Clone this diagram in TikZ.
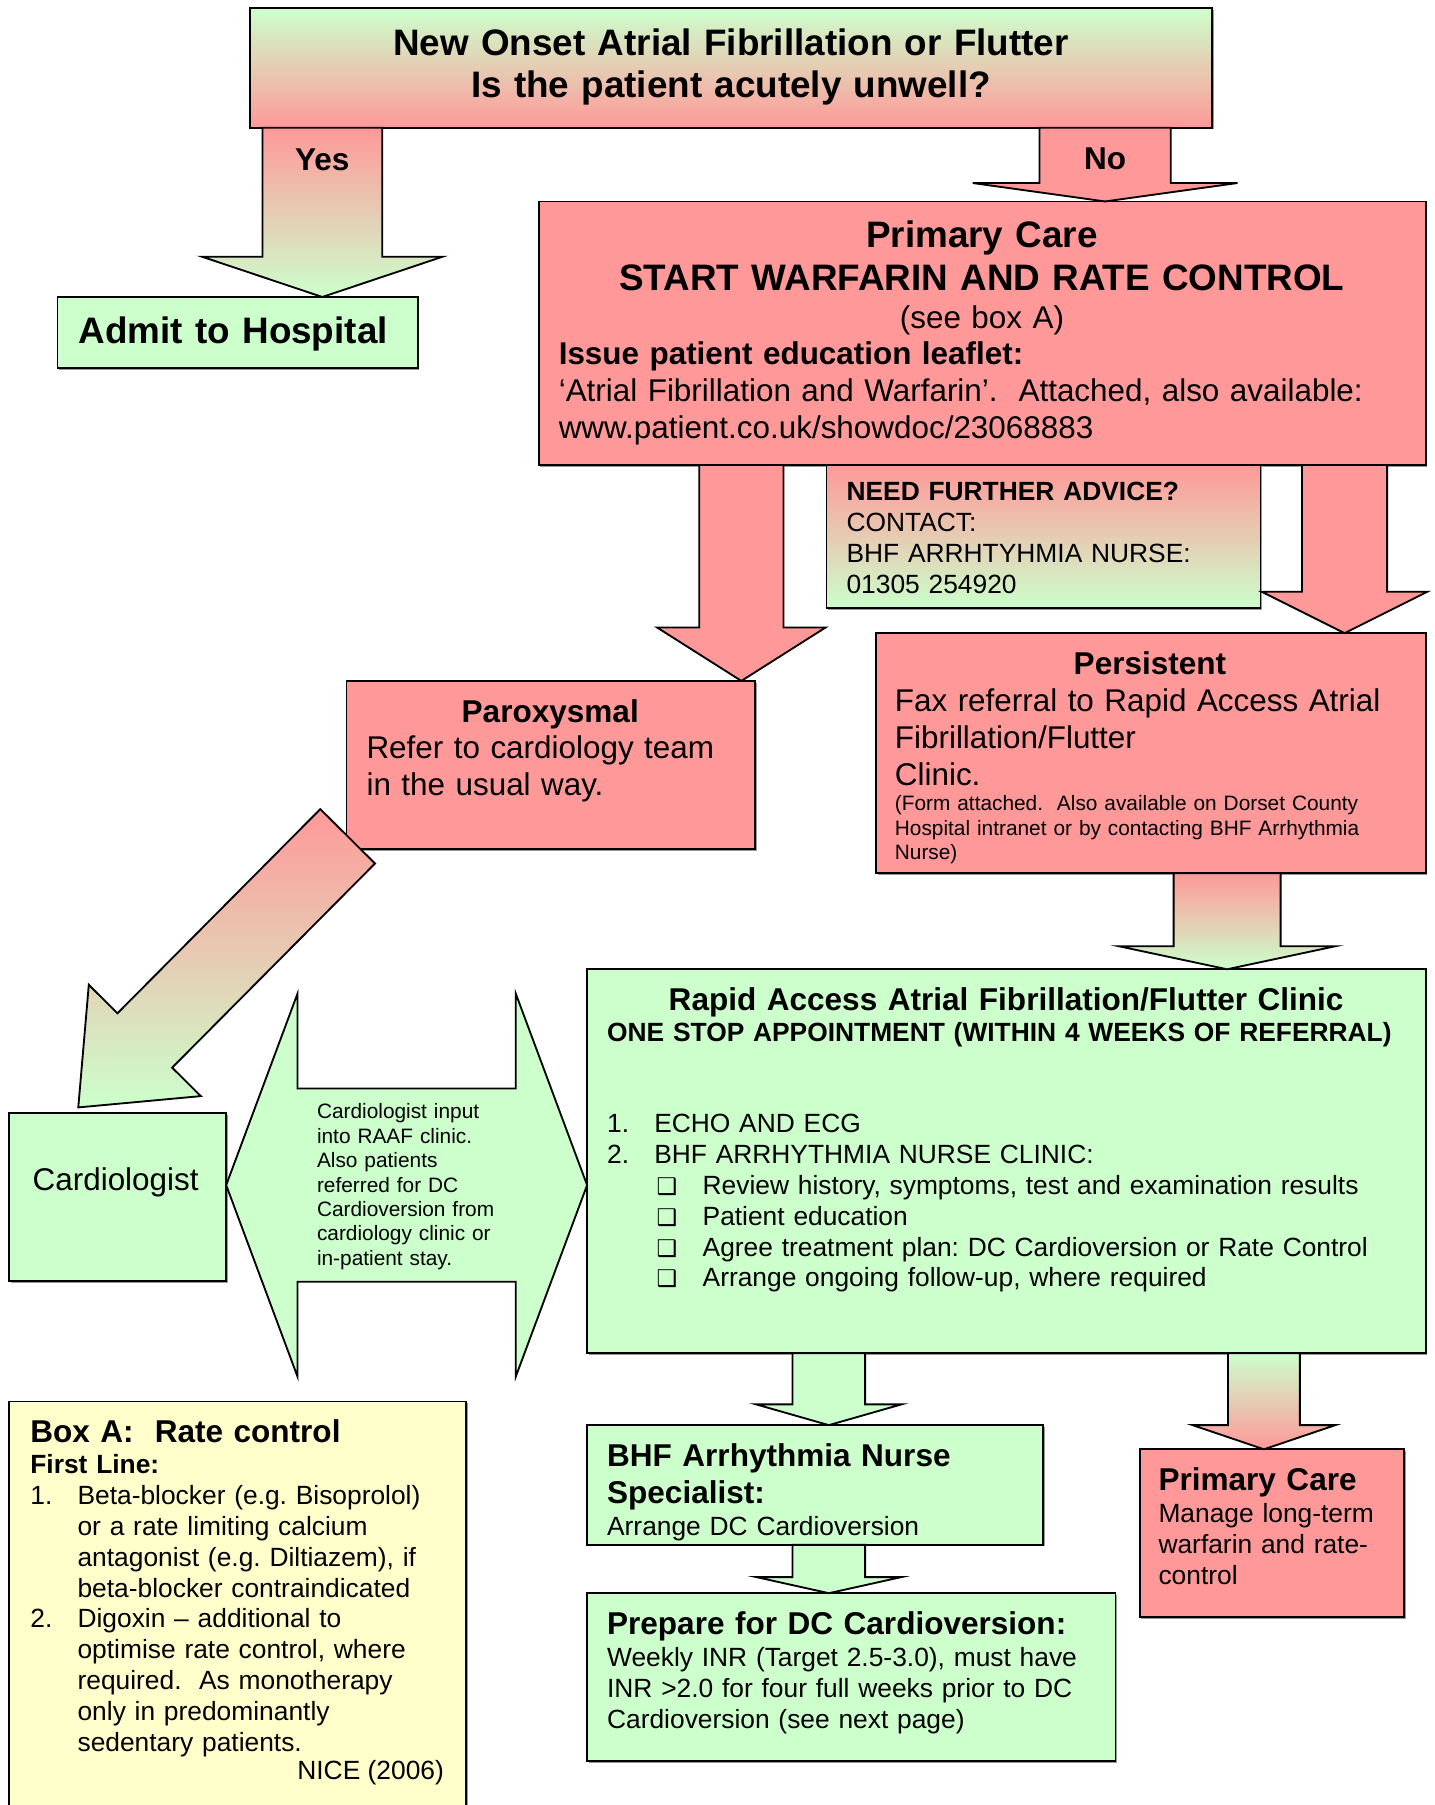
\documentclass[tikz,border=0pt]{standalone}
\usepackage{fontspec}
\setmainfont{Liberation Sans}
\newfontfamily\symf{DejaVu Sans}
\usetikzlibrary{calc,fit,shadows}
\definecolor{lgreen}{HTML}{CCFFCC}
\definecolor{lred}{HTML}{FF9999}
\definecolor{lyellow}{HTML}{FFFFCC}
\newcommand\bsq{{\symf\fontsize{10}{10}\selectfont ❑}}
\frenchspacing
\begin{document}
\begin{tikzpicture}[x={(0.5pt,0)},y={(0,-0.5pt)},
  box/.style={draw,line width=0.8pt,inner sep=0pt,outer sep=0pt,
    drop shadow={shadow xshift=0.7pt,shadow yshift=-0.7pt,fill=black!40,opacity=1}},
  fA/.style={font=\fontsize{16}{18.5}\selectfont\bfseries},
  fB/.style={font=\fontsize{13.65}{16}\selectfont},
  fBb/.style={font=\fontsize{13.7}{16}\selectfont\bfseries},
  fC/.style={font=\fontsize{11.45}{13.4}\selectfont},
  fCb/.style={font=\fontsize{11.45}{13.4}\selectfont\bfseries},
  fD/.style={font=\fontsize{9.05}{10.6}\selectfont},
  txt/.style={inner sep=0pt,anchor=base west,align=left,text width=380pt},
  ctxt/.style={inner sep=0pt,anchor=base,align=center,text width=400pt},
  fat/.style n args={3}{draw,line width=0.8pt,to path={
    ($(\tikztostart)!#1!90:(\tikztotarget)$)
    -- ($(\tikztotarget)!#3!(\tikztostart)!#1!90:(\tikztotarget)$)
    -- ($(\tikztotarget)!#3!(\tikztostart)!#2!90:(\tikztotarget)$)
    -- (\tikztotarget)
    -- ($(\tikztotarget)!#3!(\tikztostart)!#2!-90:(\tikztotarget)$)
    -- ($(\tikztotarget)!#3!(\tikztostart)!#1!-90:(\tikztotarget)$)
    -- ($(\tikztostart)!#1!-90:(\tikztotarget)$)
    -- cycle}},
  fatboth/.style n args={3}{draw,line width=0.8pt,to path={
    (\tikztostart)
    -- ($(\tikztostart)!#3!(\tikztotarget)!#2!90:(\tikztotarget)$)
    -- ($(\tikztostart)!#3!(\tikztotarget)!#1!90:(\tikztotarget)$)
    -- ($(\tikztotarget)!#3!(\tikztostart)!#1!90:(\tikztotarget)$)
    -- ($(\tikztotarget)!#3!(\tikztostart)!#2!90:(\tikztotarget)$)
    -- (\tikztotarget)
    -- ($(\tikztotarget)!#3!(\tikztostart)!#2!-90:(\tikztotarget)$)
    -- ($(\tikztotarget)!#3!(\tikztostart)!#1!-90:(\tikztotarget)$)
    -- ($(\tikztostart)!#3!(\tikztotarget)!#1!-90:(\tikztotarget)$)
    -- ($(\tikztostart)!#3!(\tikztotarget)!#2!-90:(\tikztotarget)$)
    -- cycle}}]
\useasboundingbox (0,0) rectangle (1246,1568);
\node[box,top color=lgreen,bottom color=lred,fit={(217,7) (1053,111)}] (q) {};
\node[box,fill=lgreen,fit={(50,258) (363,320)}] (admit) {};
\node[box,fill=lred,fit={(468,175) (1238.5,404)}] (pc) {};
\node[box,top color=lred,bottom color=lgreen,fit={(718,404) (1095,528.5)}] (adv) {};
\node[box,fill=lred,fit={(761,550) (1238.5,758.5)}] (pers) {};
\node[box,fill=lred,fit={(301,591.5) (656,737.5)}] (par) {};
\node[box,fill=lgreen,fit={(8,967) (196.5,1113)}] (card) {};
\node[box,fill=lgreen,fit={(510,842) (1238.5,1175.5)}] (raaf) {};
\node[box,fill=lgreen,fit={(510,1238) (906,1342)}] (bhf) {};
\node[box,fill=lgreen,fit={(510,1384) (969,1530)}] (prep) {};
\node[box,fill=lred,fit={(990,1259) (1220,1405)}] (pc2) {};
\node[box,fill=lyellow,fit={(8,1217.5) (405,1590)}] (boxa) {};
\coordinate (yesx) at (280,0);
\coordinate (nox) at (960,0);
\coordinate (parx) at (644,0);
\coordinate (persx) at (1168,0);
\coordinate (raafx) at (1066,0);
\coordinate (bhfx) at (720,0);
\coordinate (pc2x) at (1098,0);
\coordinate (dbly) at (0,1029.5);
\coordinate (dgs) at ($(par.south west)+(1,-11)$);
\coordinate (dge) at ($(card.north west)+(60,-5)$);
\shade[fat={26pt}{52.25pt}{17.5pt},top color=lred,bottom color=lgreen] (q.south -| yesx) to (admit.north -| yesx);
\path[fat={28.5pt}{57.5pt}{8pt},fill=lred] (q.south -| nox) to (pc.north -| nox);
\path[fat={18.3pt}{36.6pt}{23.2pt},fill=lred] (pc.south -| parx) to (par.north -| parx);
\path[fat={18.5pt}{36pt}{18pt},fill=lred] (pc.south -| persx) to (pers.north -| persx);
\shade[fat={23.25pt}{47pt}{10pt},top color=lred,bottom color=lgreen] (pers.south -| raafx) to (raaf.north -| raafx);
\path[fat={15.75pt}{31.5pt}{9pt},fill=lgreen] (raaf.south -| bhfx) to (bhf.north -| bhfx);
\shade[fat={15.6pt}{31pt}{10.5pt},top color=lgreen,bottom color=lred] (raaf.south -| pc2x) to (pc2.north -| pc2x);
\path[fat={15.75pt}{31.5pt}{7pt},fill=lgreen] (bhf.south -| bhfx) to (prep.north -| bhfx);
\shade[fat={16.75pt}{34.3pt}{41pt},top color=lred,bottom color=lgreen] (dgs) to (dge);
\path[fatboth={42pt}{83.25pt}{31pt},fill=lgreen] (card.east |- dbly) to (raaf.west |- dbly);
\node[ctxt,fA] (qt) at (635,48) {New Onset Atrial Fibrillation or Flutter\\Is the patient acutely unwell?};
\node[ctxt,fBb] (yest) at (280,148) {Yes};
\node[ctxt,fBb] (not) at (960,147) {No};
\node[txt,fA] (admitt) at (68,298) {Admit to Hospital};
\node[ctxt,fA] (pct1) at (853,215) {Primary Care\\START WARFARIN AND RATE CONTROL};
\node[ctxt,fB] (pct2) at (853,285) {(see box A)};
\node[txt,fB] (pct3) at (485,317) {\textbf{Issue patient education leaflet:}\\‘Atrial Fibrillation and Warfarin’.\ \ Attached, also available:\\www.patient.co.uk/showdoc/23068883};
\node[txt,fC] (advt) at (735,435) {\textbf{NEED FURTHER ADVICE?}\\CONTACT:\\BHF ARRHTYHMIA NURSE:\\01305 254920};
\node[ctxt,fBb] (perst1) at (999,586) {Persistent};
\node[txt,fB] (perst2) at (777,618) {Fax referral to Rapid Access Atrial\\Fibrillation/Flutter\\Clinic.};
\node[txt,fD] (perst3) at (777,704.5) {(Form attached.\ \ Also available on Dorset County\\Hospital intranet or by contacting BHF Arrhythmia\\Nurse)};
\node[ctxt,fBb] (part1) at (478,628) {Paroxysmal};
\node[txt,fB] (part2) at (318,659) {Refer to cardiology team\\in the usual way.};
\node[txt,fB] (cardt) at (28,1034) {Cardiologist};
\node[txt,fD] (dblt) at (275,972) {Cardiologist input\\into RAAF clinic.\\Also patients\\referred for DC\\Cardioversion from\\cardiology clinic or\\in-patient stay.};
\node[ctxt,fBb] (raaft1) at (874,878) {Rapid Access Atrial Fibrillation/Flutter Clinic};
\node[txt,fCb] (raaft2) at (527,905) {ONE STOP APPOINTMENT (WITHIN 4 WEEKS OF REFERRAL)};
\node[txt,fC] (raaft3) at (527,984) {\makebox[20.5pt][l]{1.}ECHO AND ECG\\
  \makebox[20.5pt][l]{2.}BHF ARRHYTHMIA NURSE CLINIC:\\
  \hspace*{21.5pt}\makebox[20pt][l]{\bsq}Review history, symptoms, test and examination results\\
  \hspace*{21.5pt}\makebox[20pt][l]{\bsq}Patient education\\
  \hspace*{21.5pt}\makebox[20pt][l]{\bsq}Agree treatment plan: DC Cardioversion or Rate Control\\
  \hspace*{21.5pt}\makebox[20pt][l]{\bsq}Arrange ongoing follow-up, where required};
\node[txt,fBb] (bhft1) at (527,1274) {BHF Arrhythmia Nurse\\Specialist:};
\node[txt,fC] (bhft2) at (527,1334) {Arrange DC Cardioversion};
\node[txt,fBb] (prept1) at (527,1420) {Prepare for DC Cardioversion:};
\node[txt,fC] (prept2) at (527,1448) {Weekly INR (Target 2.5-3.0), must have\\INR >2.0 for four full weeks prior to DC\\Cardioversion (see next page)};
\node[txt,fBb] (pc2t1) at (1006,1295) {Primary Care};
\node[txt,fC] (pc2t2) at (1006,1323) {Manage long-term\\warfarin and rate-\\control};
\node[txt,fBb] (boxat1) at (26,1253) {Box A:\ \ Rate control};
\node[txt,fCb] (boxat2) at (26,1280) {First Line:};
\node[txt,fC] (boxat3) at (26,1307) {\makebox[20.5pt][l]{1.}Beta-blocker (e.g. Bisoprolol)\\
  \hspace*{20.5pt}or a rate limiting calcium\\
  \hspace*{20.5pt}antagonist (e.g. Diltiazem), if\\
  \hspace*{20.5pt}beta-blocker contraindicated\\
  \makebox[20.5pt][l]{2.}Digoxin – additional to\\
  \hspace*{20.5pt}optimise rate control, where\\
  \hspace*{20.5pt}required.\ \ As monotherapy\\
  \hspace*{20.5pt}only in predominantly\\
  \hspace*{20.5pt}sedentary patients.};
\node[inner sep=0pt,anchor=base east,fC] (boxat4) at (386,1546) {NICE (2006)};
\end{tikzpicture}
\end{document}
